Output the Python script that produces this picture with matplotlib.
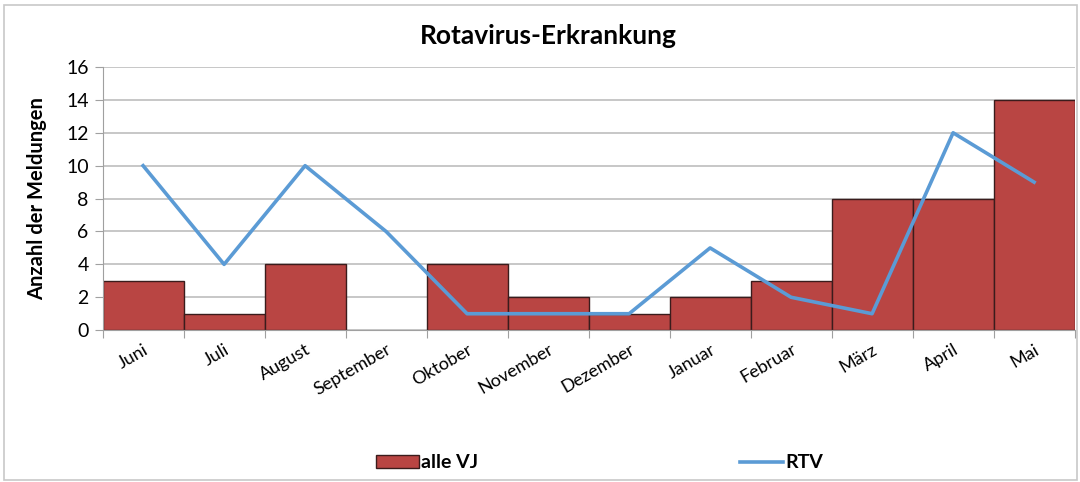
import numpy as np
import matplotlib
matplotlib.use("Agg")
from matplotlib import pyplot as plt
from matplotlib.patches import Rectangle

plt.rcParams['font.family'] = ['Lato', 'DejaVu Sans']

months = ["Juni", "Juli", "August", "September", "Oktober", "November",
          "Dezember", "Januar", "Februar", "März", "April", "Mai"]
alle_vj = [3, 1, 4, 0, 4, 2, 1, 2, 3, 8, 8, 14]
rtv = [10, 4, 10, 6, 1, 1, 1, 5, 2, 1, 12, 9]

fig = plt.figure(figsize=(10.8, 4.82), dpi=100)
ax = fig.add_axes([0.095, 0.315, 0.9, 0.546])

x = np.arange(len(months))
edges = ["#3a1c1c" if v > 0 else "none" for v in alle_vj]
bars = ax.bar(x, alle_vj, width=1.0, color="#B94543", edgecolor=edges,
              linewidth=1.0, label="alle VJ", zorder=2)
line, = ax.plot(x, rtv, color="#5B9BD5", linewidth=2.6, label="RTV", zorder=3)

ax.set_xlim(-0.5, len(months) - 0.5)
ax.set_ylim(0, 16)
ax.set_yticks(range(0, 17, 2))
ax.tick_params(axis="y", labelsize=14, color="#a0a0a0", length=6, pad=4)
ax.yaxis.grid(True, color="#bdbdbd", linewidth=1.2, zorder=0)
ax.set_axisbelow(True)

# category boundary ticks under the axis, labels at the centres
ax.set_xticks(np.arange(-0.5, len(months)), minor=False)
ax.set_xticklabels([])
ax.set_xticks(x, minor=True)
ax.set_xticklabels(months, minor=True, rotation=30, ha="right",
                   rotation_mode="anchor", fontsize=13)
ax.tick_params(axis="x", which="major", color="#a0a0a0", length=6)
ax.tick_params(axis="x", which="minor", length=0, pad=8)

for side in ["top", "right"]:
    ax.spines[side].set_visible(False)
ax.spines["left"].set_color("#a0a0a0")
ax.spines["bottom"].set_color("#a0a0a0")

ax.set_ylabel("Anzahl der Meldungen", fontsize=14.5, fontweight="bold", labelpad=14)
fig.text(0.508, 0.925, "Rotavirus-Erkrankung", ha="center", va="center",
         fontsize=19, fontweight="bold")

fig.legend([bars, line], ["alle VJ", "RTV"], loc="center",
           bbox_to_anchor=(0.555, 0.04), ncol=2, frameon=False,
           columnspacing=13.5, handlelength=2.2, handleheight=0.6,
           handletextpad=0.1, prop={"weight": "bold", "size": 14})

fig.patches.append(Rectangle((0.004, 0.004), 0.993, 0.985, transform=fig.transFigure,
                             fill=False, edgecolor="#c8c8c8", linewidth=1.2))

fig.savefig("out.png", dpi=100)
